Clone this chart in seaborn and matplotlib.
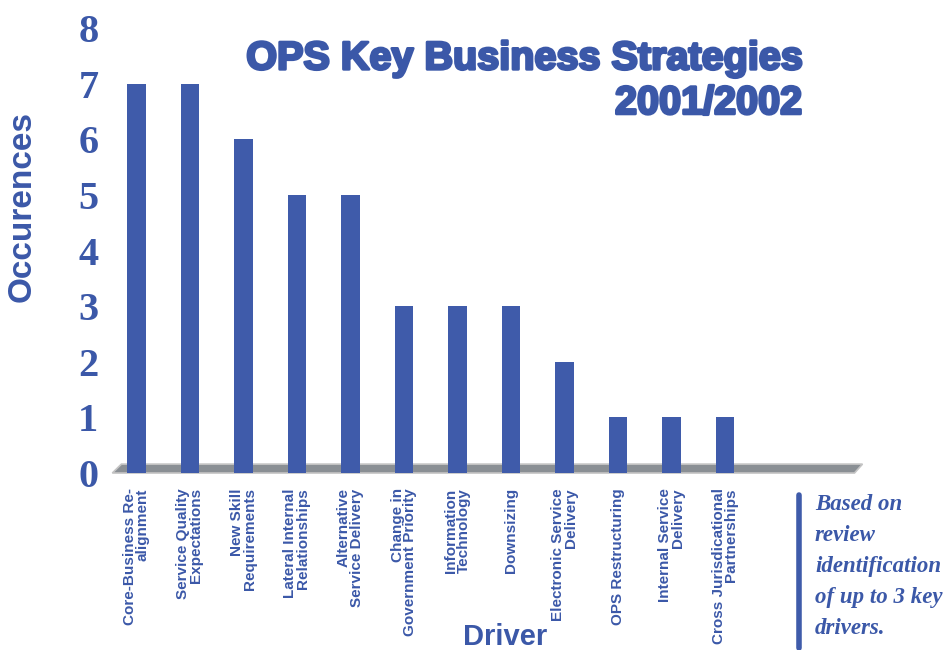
import matplotlib
matplotlib.use("Agg")
import matplotlib.pyplot as plt
import matplotlib.transforms as mtransforms
import matplotlib.patheffects as pe
from matplotlib.patches import Polygon
from matplotlib.lines import Line2D
import seaborn as sns
import pandas as pd

### data
drivers = ['Core-Business Re-\nalignment', 'Service Quality\nExpectations',
           'New Skill\nRequirements', 'Lateral Internal\nRelationships',
           'Alternative\nService Delivery', 'Change in\nGovernment Priority',
           'Information\nTechnology', 'Downsizing',
           'Electronic Service\nDelivery', 'OPS Restructuring',
           'Internal Service\nDelivery', 'Cross Jurisdicational\nPartnerships']
occurences = [7, 7, 6, 5, 5, 3, 3, 3, 2, 1, 1, 1]
y_ticks = [0, 1, 2, 3, 4, 5, 6, 7, 8]

blue = '#3F5BAA'
txt_blue = '#3B58A8'

df = pd.DataFrame({'Driver': drivers, 'Occurences': occurences})

sns.set_style('white')
fig = plt.figure(figsize=(9.52, 6.5), dpi=100)
ax = fig.add_axes([0.118, 0.2723, 0.788, 0.6846])

sns.barplot(data=df, x='Driver', y='Occurences', color=blue, width=0.34,
            saturation=1, linewidth=0, ax=ax)
for p in ax.patches:
    p.set_zorder(3)

### floor slab behind the bars
trans = mtransforms.blended_transform_factory(ax.transData, ax.transAxes)
floor = Polygon([(-0.45, 0.0), (-0.28, 0.02), (13.57, 0.02), (13.42, 0.0)],
                closed=True, transform=trans, facecolor='#8A8F94',
                edgecolor='#C4C4C4', lw=1.2, zorder=1, clip_on=False)
ax.add_patch(floor)

ax.set_xlim(-0.45, 13.57)
ax.set_ylim(0, 8)
ax.set_yticks(y_ticks)
ax.set_yticklabels([str(t) for t in y_ticks], fontfamily='Liberation Serif',
                   fontweight='bold', fontsize=29, color=txt_blue)
ax.tick_params(axis='y', length=0, pad=10)
ax.tick_params(axis='x', length=0, pad=11)
ax.set_xticks(range(len(drivers)))
ax.set_xticklabels(drivers, rotation=90, ha='center', va='top',
                   multialignment='right', fontfamily='Liberation Sans',
                   fontweight='bold', fontsize=11, color=txt_blue,
                   linespacing=0.9)
for s in ax.spines.values():
    s.set_visible(False)

ax.set_ylabel('Occurences', fontfamily='Liberation Sans', fontweight='bold',
              fontsize=24, color=txt_blue)
ax.yaxis.set_label_coords(-0.099, 0.598)
ax.set_xlabel('Driver', fontfamily='Liberation Sans', fontweight='bold',
              fontsize=21, color=txt_blue, va='center')
ax.xaxis.set_label_coords(0.524, -0.369)

### title
fig.text(0.8435, 0.876, 'OPS Key Business Strategies\n2001/2002', ha='right',
         va='center', multialignment='right', fontfamily='Liberation Sans',
         fontweight='bold', fontsize=28.5, color=txt_blue, linespacing=1.22,
         path_effects=[pe.withStroke(linewidth=2.0, foreground=txt_blue)])

### side note
fig.add_artist(Line2D([799 / 952, 799 / 952], [1 - 495 / 650, 1 - 648 / 650],
                      color=blue, lw=4))
fig.text(815 / 952, 1 - 494 / 650,
         'Based on\nreview\nidentification\nof up to 3 key\ndrivers.',
         ha='left', va='top', fontfamily='Liberation Serif', fontweight='bold',
         fontstyle='italic', fontsize=16.5, color=txt_blue, linespacing=1.62)

fig.savefig('out.png', dpi=100)
